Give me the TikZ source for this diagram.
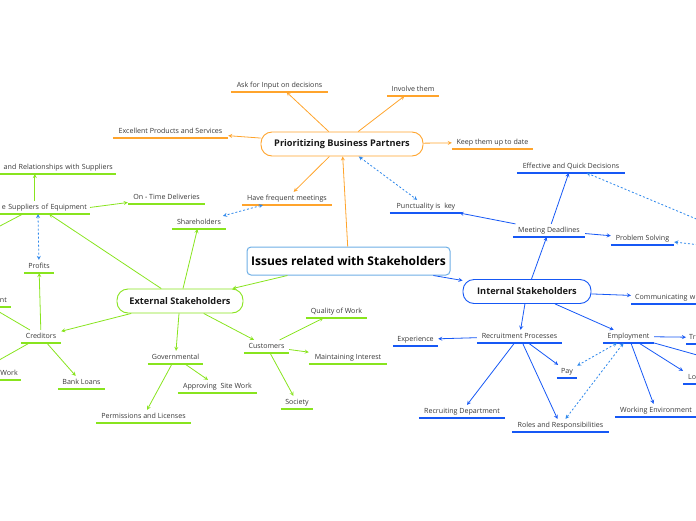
\documentclass[tikz,border=0pt]{standalone}
\usepackage{fontspec}
\setmainfont{Open Sans}
\usepackage{tikz}

\definecolor{org}{RGB}{255,164,44}
\definecolor{grn}{RGB}{136,228,30}
\definecolor{blu}{RGB}{22,88,245}
\definecolor{dsh}{RGB}{45,135,235}
\definecolor{rootb}{RGB}{110,175,230}
\definecolor{txt}{RGB}{55,55,55}

\tikzset{
  topic/.style={font=\fontsize{7.1}{8}\selectfont, text=txt, anchor=south,
    inner xsep=0pt, inner ysep=3pt, text height=5.2pt, text depth=1.5pt,
    append after command={(\tikzlastnode.south west) edge[draw=#1, line width=1.6pt, -] (\tikzlastnode.south east)}},
  rfrag/.style={anchor=south east, align=right, inner xsep=3pt},
  lfrag/.style={anchor=south west, align=left, inner xsep=4pt},
  branch/.style={draw=#1, line width=0.9pt, fill=white, rounded corners=11pt,
    minimum height=24pt, font=\fontsize{9.2}{11}\selectfont\bfseries, text=black!90},
  link/.style={draw=#1, line width=0.8pt, -stealth},
  dlink/.style={draw=dsh, line width=0.8pt, dash pattern=on 2pt off 2pt, stealth-stealth},
}

\begin{document}
\begin{tikzpicture}[x=1pt,y=-1pt]
\useasboundingbox (0,0) rectangle (696,520);
\clip (0,0) rectangle (696,520);

% main topic and branches
\node[draw=rootb, line width=1pt, fill=white, rounded corners=4pt, minimum width=203pt,
  minimum height=28pt, inner xsep=2pt, font=\fontsize{12}{14}\selectfont\bfseries] (root) at (348.5,261) {Issues related with Stakeholders};
\node[branch=org, minimum width=162pt] (pbp) at (342,144) {Prioritizing Business Partners};
\node[branch=grn, minimum width=126pt] (ext) at (180,301) {External Stakeholders};
\node[branch=blu, minimum width=128pt] (int) at (527,291.5) {Internal Stakeholders};

% business partners
\node[topic=org, minimum width=97pt] (aski) at (279.5,92) {Ask for Input on decisions};
\node[topic=org, minimum width=52pt] (invt) at (413,96) {Involve them};
\node[topic=org, minimum width=115pt] (excl) at (170.5,138) {Excellent Products and Services};
\node[topic=org, minimum width=81pt] (keep) at (492.5,149) {Keep them up to date};
\node[topic=org, minimum width=90pt] (meet) at (287,205) {Have frequent meetings};

% external stakeholders
\node[topic=grn, minimum width=54pt] (shr) at (199,229) {Shareholders};
\node[topic=grn, rfrag, text width=128pt] (sup) at (90,214) {e Suppliers of Equipment};
\node[topic=grn, rfrag, text width=156pt] (rel) at (116,174) {and Relationships with Suppliers};
\node[topic=grn, minimum width=77pt] (otd) at (166.5,204) {On - Time Deliveries};
\node[topic=grn, minimum width=30pt] (prf) at (39,273) {Profits};
\node[topic=grn, minimum width=40pt] (crd) at (41,343) {Creditors};
\node[topic=grn, rfrag, inner xsep=4pt, text width=32pt] (nt) at (11,307) {nt};
\node[topic=grn, rfrag, text width=85pt] (wrk) at (21,380) {Work};
\node[topic=grn, minimum width=47pt] (bnk) at (81.5,389) {Bank Loans};
\node[topic=grn, minimum width=55pt] (gov) at (175.5,364) {Governmental};
\node[topic=grn, minimum width=79pt] (asw) at (217.5,393) {Approving~ Site Work};
\node[topic=grn, minimum width=95pt] (pml) at (143.5,423) {Permissions and Licenses};
\node[topic=grn, minimum width=45pt] (cus) at (266.5,353) {Customers};
\node[topic=grn, minimum width=61pt] (qow) at (336.5,318) {Quality of Work};
\node[topic=grn, minimum width=78pt] (mnt) at (348,364) {Maintaining Interest};
\node[topic=grn, minimum width=32pt] (soc) at (297,409) {Society};
\coordinate (supx) at (-40,247);

% internal stakeholders
\node[topic=blu, minimum width=72pt] (mdl) at (549,237) {Meeting Deadlines};
\node[topic=blu, minimum width=108pt] (eqd) at (571,173) {Effective and Quick Decisions};
\node[topic=blu, minimum width=72pt] (pnk) at (426,213) {Punctuality is~ key};
\node[topic=blu, minimum width=63pt] (pbs) at (642.5,245) {Problem Solving};
\node[topic=blu, lfrag, text width=100pt] (cmw) at (631,304) {Communicating w};
\node[topic=blu, minimum width=85pt] (rcp) at (519.5,343) {Recruitment Processes};
\node[topic=blu, minimum width=51pt] (emp) at (628.5,343) {Employment};
\node[topic=blu, minimum width=45pt] (exp) at (415.5,346) {Experience};
\node[topic=blu, minimum width=20pt] (pay) at (567,378) {Pay};
\node[topic=blu, minimum width=86pt] (rcd) at (462,418) {Recruiting Department};
\node[topic=blu, minimum width=97pt] (rol) at (560.5,432) {Roles and Responsibilities};
\node[topic=blu, minimum width=82pt] (wen) at (656,417) {Working Environment};
\node[topic=blu, lfrag, inner xsep=3pt, text width=40pt] (tr) at (686,344) {Tr};
\node[topic=blu, lfrag, inner xsep=5pt, text width=40pt] (lo) at (683,384) {Lo};
\coordinate (offr) at (780,254);
\coordinate (emx) at (740,367);

% connectors
\draw[link=org] (root) -- (pbp);
\draw[link=org] (pbp) -- (aski);
\draw[link=org] (pbp) -- (invt);
\draw[link=org] (pbp) -- (excl);
\draw[link=org] (pbp) -- (keep);
\draw[link=org] (pbp) -- (meet);
\draw[dlink] (pbp) -- (pnk);
\draw[dlink] (meet) -- (shr);

\draw[link=grn] (root) -- (ext);
\draw[link=grn] (ext) -- (shr);
\draw[link=grn] (ext) -- ([xshift=-41pt]sup.south east);
\draw[link=grn] (sup.north -| rel.south) -- (rel.south);
\draw[link=grn] (sup.east) -- (otd);
\draw[link=grn] (sup.south) -- (supx);
\draw[dlink] ([xshift=-52pt]sup.south east) -- (prf);
\draw[link=grn] (ext) -- (crd);
\draw[link=grn] (crd) -- (prf);
\draw[link=grn] (crd) -- (nt.south);
\draw[link=grn] (crd) -- (wrk);
\draw[link=grn] (crd) -- (bnk);
\draw[link=grn] (ext) -- (gov);
\draw[link=grn] (gov) -- (asw);
\draw[link=grn] (gov) -- (pml);
\draw[link=grn] (ext) -- (cus);
\draw[link=grn] (cus) -- (qow);
\draw[link=grn] (cus) -- (mnt);
\draw[link=grn] (cus) -- (soc);

\draw[link=blu] (root) -- (int);
\draw[link=blu] (int) -- (mdl);
\draw[link=blu] (mdl) -- (eqd);
\draw[link=blu] (mdl) -- (pnk);
\draw[link=blu] (mdl) -- (pbs);
\draw[dlink] (offr) -- (eqd);
\draw[dlink] (offr) -- (pbs);
\draw[link=blu] (int) -- (cmw);
\draw[link=blu] (int) -- (rcp);
\draw[link=blu] (int) -- (emp);
\draw[link=blu] (rcp) -- (exp);
\draw[link=blu] (rcp) -- (pay);
\draw[link=blu] (rcp) -- (rcd);
\draw[link=blu] (rcp) -- (rol);
\draw[dlink] (emp) -- (pay);
\draw[dlink] (emp) -- (rol);
\draw[link=blu] (emp) -- (wen);
\draw[link=blu] (emp) -- (tr);
\draw[link=blu] (emp) -- (lo.north west);
\draw[link=blu] (emp.south east) -- (emx);
\end{tikzpicture}
\end{document}
